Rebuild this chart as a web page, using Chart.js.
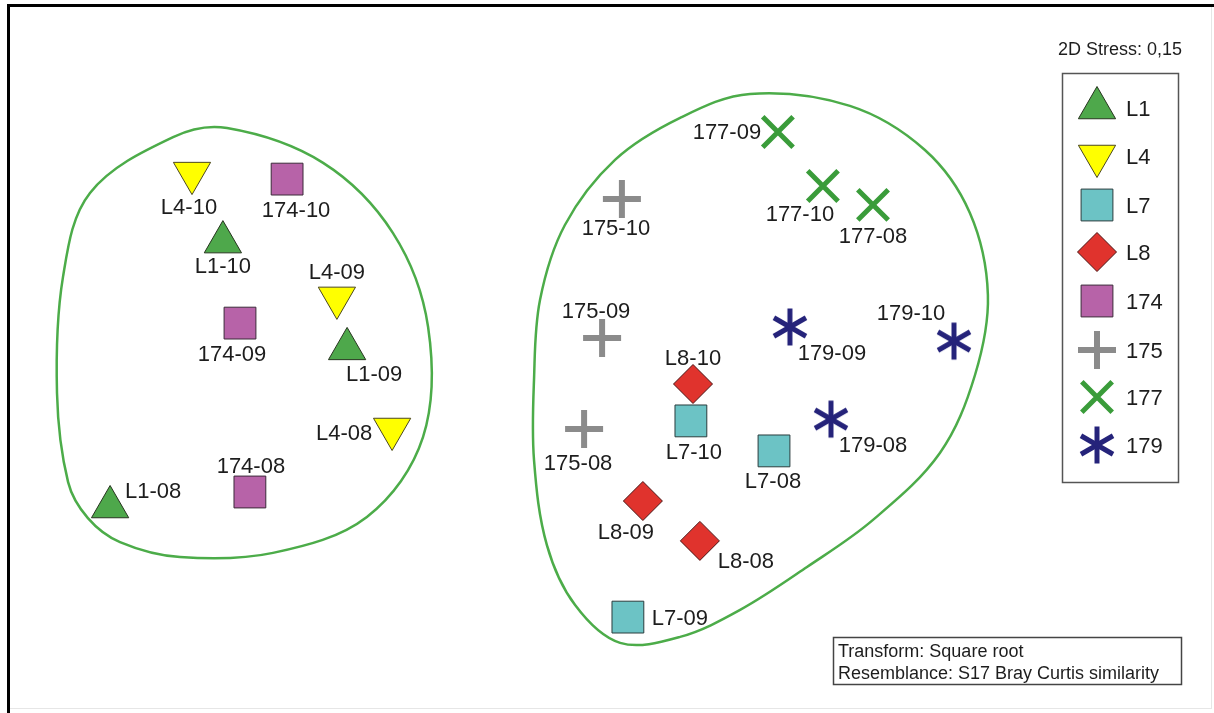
<!DOCTYPE html>
<html>
<head>
<meta charset="utf-8">
<script src="https://cdn.jsdelivr.net/npm/chart.js@4.4.0/dist/chart.umd.min.js"></script>
<style>
  html, body { margin: 0; padding: 0; background: #ffffff; }
  canvas { display: block; }
</style>
</head>
<body>
<canvas id="nmds" width="1214" height="713"></canvas>
<script>
// ---- NMDS ordination data (site groups x sampling years) ----
const groups = ['L1', 'L4', 'L7', 'L8', '174', '175', '177', '179'];
const years = ['08', '09', '10'];

const L1_x = [-1.633, -0.843, -1.257];
const L1_y = [-0.490, 0.037, 0.393];
const L4_x = [-0.693, -0.877, -1.360];
const L4_y = [-0.230, 0.207, 0.623];
const L7_x = [0.580, 0.093, 0.303];
const L7_y = [-0.303, -0.857, -0.203];
const L8_x = [0.333, 0.143, 0.310];
const L8_y = [-0.603, -0.470, -0.080];
const S174_x = [-1.167, -1.200, -1.043];
const S174_y = [-0.440, 0.123, 0.603];
const S175_x = [-0.053, 0.007, 0.073];
const S175_y = [-0.230, 0.073, 0.537];
const S177_x = [0.910, 0.593, 0.743];
const S177_y = [0.517, 0.760, 0.580];
const S179_x = [0.770, 0.633, 1.180];
const S179_y = [-0.197, 0.110, 0.063];

// similarity-group outlines (closed curves)
const leftHull_x = [-1.243, -0.923, -0.690, -0.573, -0.590, -0.777, -1.090, -1.400, -1.600, -1.707, -1.773, -1.810, -1.790, -1.700, -1.423];
const leftHull_y = [0.773, 0.657, 0.423, 0.110, -0.257, -0.523, -0.643, -0.657, -0.607, -0.527, -0.407, -0.110, 0.277, 0.557, 0.743];
const rightHull_x = [0.500, 0.833, 1.083, 1.233, 1.293, 1.250, 1.133, 0.910, 0.690, 0.467, 0.267, 0.067, -0.083, -0.177, -0.220, -0.220, -0.200, -0.117, 0.050, 0.267];
const rightHull_y = [0.887, 0.847, 0.700, 0.490, 0.217, -0.050, -0.310, -0.533, -0.690, -0.833, -0.923, -0.943, -0.817, -0.617, -0.333, -0.067, 0.200, 0.450, 0.667, 0.807];

const seriesX = [L1_x, L4_x, L7_x, L8_x, S174_x, S175_x, S177_x, S179_x];
const seriesY = [L1_y, L4_y, L7_y, L8_y, S174_y, S175_y, S177_y, S179_y];

const stressText = '2D Stress: 0,15';
const noteLines = ['Transform: Square root', 'Resemblance: S17 Bray Curtis similarity'];

// ---- label placement around each marker (pixel nudges) ----
const labelNudge = {
  'L1-08': [43, -17], 'L1-09': [27, 24], 'L1-10': [0, 23],
  'L4-08': [-48, 3], 'L4-09': [0, -27], 'L4-10': [-3, 33],
  '174-08': [1, -27], '174-09': [-8, 30], '174-10': [9, 30],
  'L7-08': [-1, 29], 'L7-09': [52, 0], 'L7-10': [3, 30],
  'L8-08': [46, 19], 'L8-09': [-17, 30], 'L8-10': [0, -27],
  '175-08': [-6, 33], '175-09': [-6, -28], '175-10': [-6, 28],
  '177-08': [0, 30], '177-09': [-51, -1], '177-10': [-23, 27],
  '179-08': [42, 25], '179-09': [42, 25], '179-10': [-43, -29]
};

// six-armed asterisk marker
function makeAsterisk(color) {
  const c = document.createElement('canvas');
  c.width = 42; c.height = 42;
  const g = c.getContext('2d');
  g.strokeStyle = color;
  g.lineWidth = 5;
  g.lineCap = 'butt';
  const r = 18.5;
  [90, 30, -30].forEach(function (deg) {
    const a = deg * Math.PI / 180;
    g.beginPath();
    g.moveTo(21 - Math.cos(a) * r, 21 + Math.sin(a) * r);
    g.lineTo(21 + Math.cos(a) * r, 21 - Math.sin(a) * r);
    g.stroke();
  });
  return c;
}

const markerStyles = [
  { pointStyle: 'triangle', rotation: 0,   radius: 21.5, bg: '#4ea84b', border: '#27351f', bw: 1 },
  { pointStyle: 'triangle', rotation: 180, radius: 21.5, bg: '#ffff00', border: '#4b4720', bw: 1 },
  { pointStyle: 'rect',     rotation: 0,   radius: 22.5, bg: '#6cc3c5', border: '#2a3c3d', bw: 1 },
  { pointStyle: 'rectRot',  rotation: 0,   radius: 19.5, bg: '#e0332d', border: '#4b1414', bw: 1 },
  { pointStyle: 'rect',     rotation: 0,   radius: 22.5, bg: '#b763a8', border: '#3b2a39', bw: 1 },
  { pointStyle: 'cross',    rotation: 0,   radius: 19,   bg: '#8b8b8b', border: '#8b8b8b', bw: 6 },
  { pointStyle: 'crossRot', rotation: 0,   radius: 21.5, bg: '#3a9c3a', border: '#3a9c3a', bw: 5 },
  { pointStyle: makeAsterisk('#25237a'), rotation: 0, radius: 18, bg: '#25237a', border: '#25237a', bw: 0 }
];

const datasets = groups.map(function (g, i) {
  const s = markerStyles[i];
  return {
    label: g,
    data: seriesX[i].map(function (x, j) { return { x: x, y: seriesY[i][j] }; }),
    pointStyle: s.pointStyle,
    pointRotation: s.rotation,
    pointRadius: s.radius,
    pointHoverRadius: s.radius,
    backgroundColor: s.bg,
    borderColor: s.border,
    borderWidth: s.bw,
    showLine: false,
    clip: false
  };
});

function hullDataset(xs, ys) {
  return {
    type: 'line',
    closedOutline: true,
    data: xs.map(function (x, j) { return { x: x, y: ys[j] }; }),
    borderColor: '#4cac49',
    borderWidth: 2.5,
    pointRadius: 0,
    pointHoverRadius: 0,
    tension: 0.35,
    fill: false,
    clip: false
  };
}
datasets.push(hullDataset(leftHull_x, leftHull_y));
datasets.push(hullDataset(rightHull_x, rightHull_y));

const FONT = '"Liberation Sans", Arial, Helvetica, sans-serif';
const TEXT = '#1d1d1d';

// close the outline curves into smooth loops
const closedOutlines = {
  id: 'closedOutlines',
  afterDatasetsUpdate(chart) {
    chart.data.datasets.forEach(function (ds, i) {
      if (!ds.closedOutline) return;
      const line = chart.getDatasetMeta(i).dataset;
      if (!line) return;
      line._loop = true;
      line._fullLoop = true;
      line._pointsUpdated = false;
      delete line._segments;
      delete line._path;
    });
  }
};

// sample labels next to markers
const sampleLabels = {
  id: 'sampleLabels',
  afterDatasetsDraw(chart) {
    const ctx = chart.ctx;
    ctx.save();
    ctx.font = '22px ' + FONT;
    ctx.fillStyle = TEXT;
    ctx.textAlign = 'center';
    ctx.textBaseline = 'alphabetic';
    groups.forEach(function (g, i) {
      chart.getDatasetMeta(i).data.forEach(function (pt, j) {
        const name = g + '-' + years[j];
        const n = labelNudge[name] || [0, 28];
        ctx.fillText(name, pt.x + n[0], pt.y + n[1] + 8);
      });
    });
    ctx.restore();
  }
};

// frame, stress value, legend box and method note
const decorations = {
  id: 'decorations',
  beforeDraw(chart) {
    const ctx = chart.ctx;
    ctx.save();
    ctx.fillStyle = '#ffffff';
    ctx.fillRect(0, 0, chart.width, chart.height);
    ctx.restore();
  },
  afterDraw(chart) {
    const ctx = chart.ctx;
    ctx.save();
    // frame
    ctx.fillStyle = '#e6e6e6';
    ctx.fillRect(1211, 4, 1, 705);
    ctx.fillRect(7, 708, 1205, 1);
    ctx.fillStyle = '#000000';
    ctx.fillRect(7, 4, 1207, 3);
    ctx.fillRect(7, 4, 3, 709);

    // stress
    ctx.font = '18px ' + FONT;
    ctx.fillStyle = TEXT;
    ctx.textAlign = 'center';
    ctx.textBaseline = 'alphabetic';
    ctx.fillText(stressText, 1120, 55);

    // legend
    ctx.strokeStyle = '#555555';
    ctx.lineWidth = 1.5;
    ctx.strokeRect(1062.5, 73.5, 116, 409);
    const rowY = [108, 156, 205, 252, 301, 350, 397, 445];
    const drawPoint = Chart.helpers && Chart.helpers.drawPoint;
    groups.forEach(function (g, i) {
      const s = markerStyles[i];
      const y = rowY[i];
      if (drawPoint) {
        ctx.save();
        ctx.fillStyle = s.bg;
        ctx.strokeStyle = s.border;
        ctx.lineWidth = s.bw;
        drawPoint(ctx, { pointStyle: s.pointStyle, rotation: s.rotation, radius: s.radius, borderWidth: s.bw }, 1097, y);
        ctx.restore();
      }
      ctx.font = '22px ' + FONT;
      ctx.fillStyle = TEXT;
      ctx.textAlign = 'left';
      ctx.fillText(g, 1126, y + 8);
    });

    // method note
    ctx.strokeStyle = '#444444';
    ctx.lineWidth = 1.5;
    ctx.strokeRect(833.5, 637.5, 348, 47);
    ctx.font = '18px ' + FONT;
    ctx.fillStyle = TEXT;
    ctx.textAlign = 'left';
    ctx.fillText(noteLines[0], 838, 657);
    ctx.fillText(noteLines[1], 838, 679);
    ctx.restore();
  }
};

new Chart(document.getElementById('nmds'), {
  type: 'scatter',
  data: { datasets: datasets },
  options: {
    responsive: false,
    animation: false,
    events: [],
    layout: { autoPadding: false, padding: { left: 0, top: 0, right: 14, bottom: 8 } },
    scales: {
      x: { type: 'linear', min: -2, max: 2, display: false },
      y: { type: 'linear', min: -1.15, max: 1.2, display: false }
    },
    plugins: {
      legend: { display: false },
      tooltip: { enabled: false },
      title: { display: false }
    }
  },
  plugins: [closedOutlines, sampleLabels, decorations]
});
</script>
</body>
</html>
